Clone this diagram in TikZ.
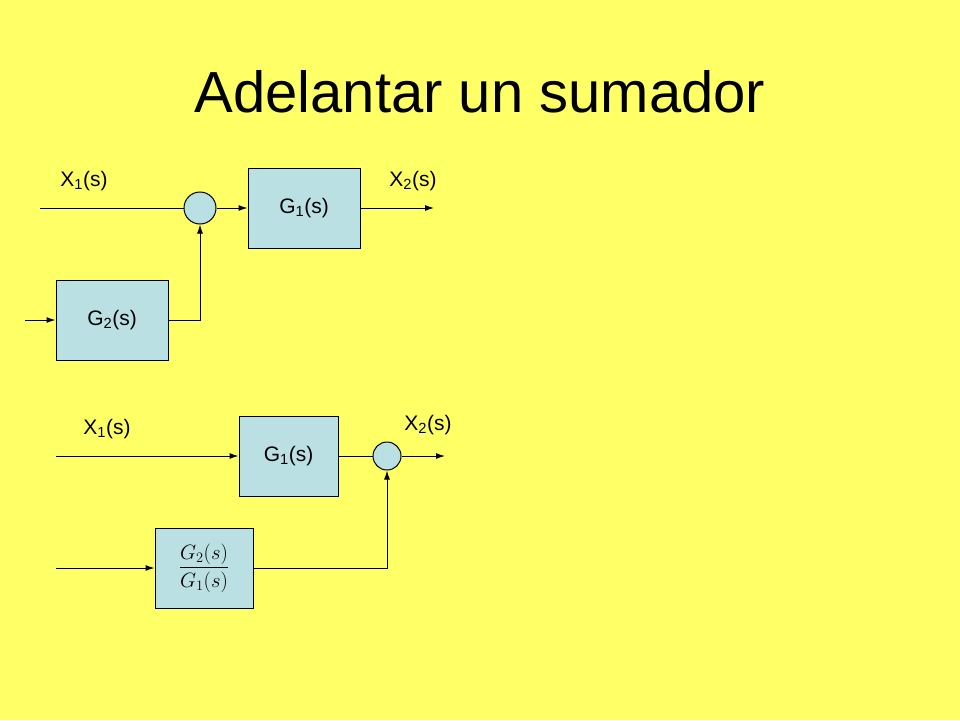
\documentclass[tikz,border=0pt]{standalone}
\usepackage{amsmath}
\usepackage{fontspec}
\setmainfont{Liberation Sans}
\usetikzlibrary{arrows.meta,positioning}
\definecolor{slideyellow}{RGB}{255,255,102}
\definecolor{blockblue}{RGB}{186,224,228}
\tikzset{
    block/.style={draw, fill=blockblue, minimum width=112pt, minimum height=80pt, font=\fontsize{21}{24}\selectfont},
    sum/.style={draw, circle, fill=blockblue, minimum size=32pt, inner sep=0pt},
    lbl/.style={font=\fontsize{21}{24}\selectfont},
    sig/.style={-{Latex[length=9pt,width=6pt]}}
}
\begin{document}
\begin{tikzpicture}[x=1pt, y=-1pt, line width=1pt]
    \fill[slideyellow] (0,0) rectangle (960,720);
    \useasboundingbox (0,0) rectangle (960,720);
    \node[font=\fontsize{58}{64}\selectfont] (title) at (480,92) {Adelantar un sumador};

    % upper diagram
    \coordinate (in1) at (40,208);
    \node[sum] (s1) at (200,208) {};
    \node[block] (g1) at (304,208) {G\textsubscript{1}(s)};
    \coordinate (out1) at (434,208);
    \node[block] (g2) at (112,320) {G\textsubscript{2}(s)};
    \coordinate (in2) at (25,320);
    \node[lbl] (x1) at (84,181) {X\textsubscript{1}(s)};
    \node[lbl] (x2) at (413,181) {X\textsubscript{2}(s)};
    \draw (in1) -- (s1);
    \draw[sig] (s1) -- (g1);
    \draw[sig] (g1) -- (out1);
    \draw[sig] (in2) -- (g2);
    \draw[sig] (g2.east) -| (s1.south);

    % lower diagram
    \coordinate (in3) at (56,456);
    \node[block, minimum width=99pt] (g1b) at (288.5,456) {G\textsubscript{1}(s)};
    \node[sum, minimum size=28pt] (s2) at (387,456) {};
    \coordinate (out2) at (445,456);
    \node[block, minimum width=98pt] (g21) at (204,568) {$\dfrac{G_2(s)}{G_1(s)}$};
    \coordinate (in4) at (56,568);
    \node[lbl] (x1b) at (107,429) {X\textsubscript{1}(s)};
    \node[lbl] (x2b) at (428,425) {X\textsubscript{2}(s)};
    \draw[sig] (in3) -- (g1b);
    \draw (g1b) -- (s2);
    \draw[sig] (s2) -- (out2);
    \draw[sig] (in4) -- (g21);
    \draw[sig] (g21.east) -| (s2.south);
\end{tikzpicture}
\end{document}
